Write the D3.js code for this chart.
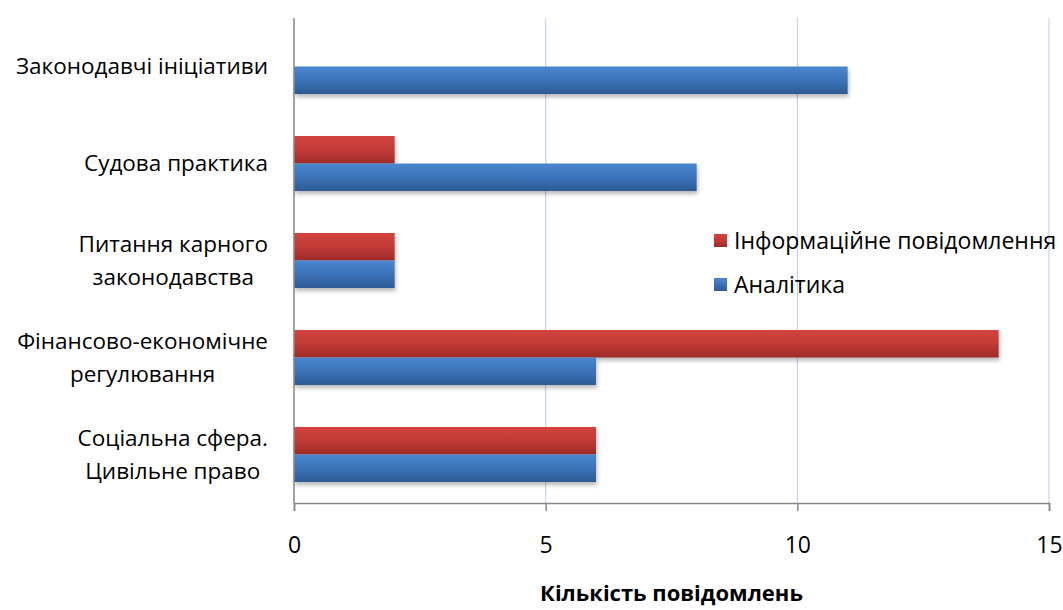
<!DOCTYPE html>
<html>
<head>
<meta charset="utf-8">
<script src="https://cdn.jsdelivr.net/npm/d3@7/dist/d3.min.js"></script>
<style>
  html, body { margin: 0; padding: 0; background: #fff; }
  svg { display: block; font-family: "Open Sans", "Noto Sans", sans-serif; }
</style>
</head>
<body>
<svg id="chart" width="1063" height="610"></svg>
<script>
// ---- data ----
const categories = [
  ["Законодавчі ініціативи"],
  ["Судова практика"],
  ["Питання карного", "законодавства"],
  ["Фінансово-економічне", "регулювання"],
  ["Соціальна сфера.", "Цивільне право"]
];
const seriesNames = ["Інформаційне повідомлення", "Аналітика"];
const infoValues = [0, 2, 2, 14, 6];
const analyticsValues = [11, 8, 2, 6, 6];
const xTicks = [0, 5, 10, 15];
const xTitle = "Кількість повідомлень";

(function () {
const svg = d3.select("#chart");
const pLeft = 294, pRight = 1049, pTop = 18, pBottom = 503;

const catKeys = categories.map(c => c.join(" "));
const x = d3.scaleLinear().domain([0, 15]).range([pLeft, pRight]);
const y = d3.scaleBand().domain(catKeys).range([pTop, pBottom]).padding(0);
const bw = y.bandwidth();
const yInner = d3.scaleBand().domain(seriesNames).range([bw / 2 - 27.5, bw / 2 + 27.5]).padding(0);

const colors = {
  "Інформаційне повідомлення": ["#d4443f", "#c23a36", "#9e2b28"],
  "Аналітика": ["#4a86cf", "#3c73b8", "#2d5a94"]
};

const defs = svg.append("defs");
seriesNames.forEach((s, i) => {
  const g = defs.append("linearGradient").attr("id", "grad" + i)
    .attr("x1", 0).attr("y1", 0).attr("x2", 0).attr("y2", 1);
  g.append("stop").attr("offset", "0%").attr("stop-color", colors[s][0]);
  g.append("stop").attr("offset", "50%").attr("stop-color", colors[s][1]);
  g.append("stop").attr("offset", "100%").attr("stop-color", colors[s][2]);
});
const f = defs.append("filter").attr("id", "shadow")
  .attr("x", "-5%").attr("y", "-30%").attr("width", "110%").attr("height", "170%");
f.append("feDropShadow").attr("dx", 1).attr("dy", 3).attr("stdDeviation", 2)
  .attr("flood-color", "#000").attr("flood-opacity", 0.28);

// gridlines
svg.append("g").selectAll("line").data(xTicks.filter(t => t > 0)).join("line")
  .attr("x1", d => x(d)).attr("x2", d => x(d))
  .attr("y1", pTop).attr("y2", pBottom)
  .attr("stroke", "#b9cde6").attr("stroke-width", 1);

// bars
const data = [];
catKeys.forEach((k, i) => {
  data.push({ cat: k, series: seriesNames[0], value: infoValues[i], si: 0 });
  data.push({ cat: k, series: seriesNames[1], value: analyticsValues[i], si: 1 });
});
svg.append("g").selectAll("rect").data(data.filter(d => d.value > 0)).join("rect")
  .attr("x", x(0))
  .attr("y", d => y(d.cat) + yInner(d.series))
  .attr("width", d => x(d.value) - x(0))
  .attr("height", yInner.bandwidth())
  .attr("fill", d => `url(#grad${d.si})`)
  .attr("filter", "url(#shadow)");

// x axis
const xAxis = d3.axisBottom(x).tickValues(xTicks).tickSize(8).tickPadding(26).tickFormat(d3.format("d"));
const gx = svg.append("g").attr("transform", `translate(0,${pBottom})`).call(xAxis);
gx.select(".domain").attr("stroke", "#868686").attr("stroke-width", 1.5);
gx.selectAll(".tick line").attr("stroke", "#868686").attr("stroke-width", 1.5);
gx.selectAll(".tick text").attr("font-size", 23).attr("fill", "#000")
  .attr("font-family", "'Open Sans', sans-serif");

// y axis line
svg.append("line").attr("x1", pLeft).attr("x2", pLeft).attr("y1", pTop).attr("y2", pBottom)
  .attr("stroke", "#868686").attr("stroke-width", 1.5);

// category labels
const labelRight = 268;
const lineH = 33;
const lg = svg.append("g").attr("font-size", 22.5).attr("fill", "#000");
categories.forEach((lines, i) => {
  const cy = y(catKeys[i]) + bw / 2;
  const t = lg.append("text").attr("text-anchor", "middle");
  const n = lines.length;
  lines.forEach((ln, j) => {
    t.append("tspan").attr("x", 0)
      .attr("y", cy + (j - (n - 1) / 2) * lineH)
      .attr("dy", "0.35em").text(ln);
  });
  let maxW = 0;
  t.selectAll("tspan").each(function() { maxW = Math.max(maxW, this.getComputedTextLength()); });
  t.selectAll("tspan").attr("x", labelRight - maxW / 2);
});

// legend
const legY = [241, 285];
const leg = svg.append("g");
seriesNames.forEach((s, i) => {
  leg.append("rect").attr("x", 714).attr("y", legY[i] - 7).attr("width", 13).attr("height", 13)
    .attr("fill", `url(#grad${i})`);
  leg.append("text").attr("x", 734).attr("y", legY[i]).attr("dy", "0.35em")
    .attr("font-size", 23).attr("fill", "#000").text(s);
});

// x title
svg.append("text").attr("x", (pLeft + pRight) / 2).attr("y", 601)
  .attr("text-anchor", "middle").attr("font-size", 22).attr("font-weight", "bold")
  .attr("fill", "#000").text(xTitle);
})();
</script>
</body>
</html>
